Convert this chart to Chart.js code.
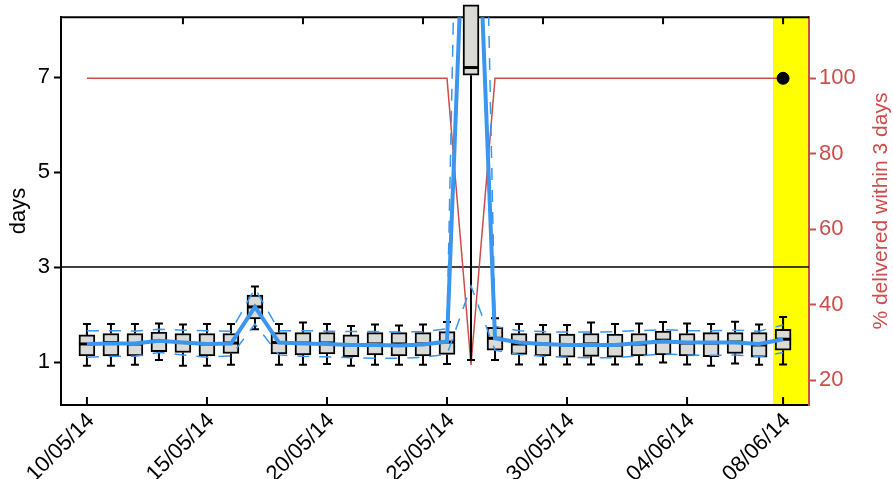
<!DOCTYPE html>
<html>
<head>
<meta charset="utf-8">
<script src="https://cdn.jsdelivr.net/npm/chart.js@4.4.0/dist/chart.umd.min.js"></script>
<style>
  html, body { margin: 0; padding: 0; background: #fff; }
</style>
</head>
<body>
<canvas id="myChart" width="893" height="479"></canvas>
<script>
const dates = [
  "10/05/14", "11/05/14", "12/05/14", "13/05/14", "14/05/14", "15/05/14",
  "16/05/14", "17/05/14", "18/05/14", "19/05/14", "20/05/14", "21/05/14",
  "22/05/14", "23/05/14", "24/05/14", "25/05/14", "26/05/14", "27/05/14",
  "28/05/14", "29/05/14", "30/05/14", "31/05/14", "01/06/14", "02/06/14",
  "03/06/14", "04/06/14", "05/06/14", "06/06/14", "07/06/14", "08/06/14"
];
const tickDays = [0, 5, 10, 15, 20, 25, 29];
const topTickDays = [4, 9, 14, 19, 24, 29];
const dayTicks = [1, 3, 5, 7];
const pctTicks = [20, 40, 60, 80, 100];

// box plot of delivery time (days)
const whiskerLow  = [0.92, 0.92, 0.94, 1.04, 0.92, 0.92, 0.94, 1.69, 0.94, 0.94, 0.96, 0.92, 0.94, 0.94, 0.94, 0.96, 1.04, 1.04, 0.95, 0.95, 0.95, 0.95, 0.95, 0.95, 0.99, 0.95, 0.92, 0.97, 0.94, 0.95];
const q1          = [1.13, 1.13, 1.13, 1.22, 1.20, 1.13, 1.18, 1.91, 1.17, 1.15, 1.17, 1.11, 1.15, 1.13, 1.13, 1.16, 7.04, 1.25, 1.16, 1.13, 1.10, 1.12, 1.10, 1.13, 1.15, 1.13, 1.11, 1.18, 1.10, 1.25];
const median      = [1.38, 1.41, 1.38, 1.44, 1.41, 1.38, 1.40, 2.16, 1.41, 1.40, 1.40, 1.36, 1.38, 1.38, 1.38, 1.42, 7.20, 1.50, 1.38, 1.38, 1.36, 1.38, 1.36, 1.38, 1.46, 1.40, 1.40, 1.42, 1.36, 1.48];
const q3          = [1.57, 1.60, 1.60, 1.63, 1.60, 1.60, 1.60, 2.41, 1.62, 1.62, 1.62, 1.57, 1.62, 1.62, 1.62, 1.64, 8.52, 1.73, 1.60, 1.60, 1.59, 1.60, 1.59, 1.60, 1.65, 1.60, 1.62, 1.62, 1.62, 1.69];
const whiskerHigh = [1.80, 1.80, 1.80, 1.81, 1.79, 1.80, 1.80, 2.59, 1.80, 1.83, 1.80, 1.76, 1.79, 1.77, 1.79, 1.84, 8.52, 1.92, 1.80, 1.78, 1.78, 1.83, 1.80, 1.81, 1.84, 1.81, 1.80, 1.85, 1.79, 1.95];

// mean and band (days)
const meanDays  = [1.38, 1.39, 1.39, 1.45, 1.41, 1.38, 1.39, 2.16, 1.41, 1.39, 1.38, 1.36, 1.36, 1.35, 1.37, 1.43, 14.5, 1.50, 1.41, 1.38, 1.36, 1.36, 1.36, 1.40, 1.43, 1.41, 1.41, 1.41, 1.38, 1.48];
const upperBand = [1.66, 1.66, 1.65, 1.69, 1.67, 1.66, 1.65, 2.55, 1.66, 1.66, 1.65, 1.64, 1.64, 1.63, 1.64, 1.70, 26.4, 1.75, 1.66, 1.64, 1.63, 1.63, 1.64, 1.66, 1.68, 1.66, 1.66, 1.67, 1.65, 1.78];
const lowerBand = [1.10, 1.12, 1.12, 1.20, 1.15, 1.10, 1.13, 1.80, 1.15, 1.12, 1.11, 1.09, 1.08, 1.08, 1.10, 1.16, 2.60, 1.25, 1.16, 1.12, 1.10, 1.09, 1.09, 1.13, 1.17, 1.15, 1.14, 1.15, 1.11, 1.20];

// % delivered within 3 days
const pctWithin3 = [100, 100, 100, 100, 100, 100, 100, 100, 100, 100, 100, 100, 100, 100, 100, 100, 24, 100, 100, 100, 100, 100, 100, 100, 100, 100, 100, 100, 100, 100];

const thresholdDays = 3;
const highlightDay = 29;

const FONT = "'Liberation Sans', Arial, Helvetica, sans-serif";
const RED = "#cd4c4c";
const BLUE = "#3a96ee";

const pts = (arr) => arr.map((v, i) => ({ x: i, y: v }));

const extras = {
  id: "extras",
  beforeDraw(chart) {
    const { ctx, chartArea: a, scales: { x } } = chart;
    const x0 = x.getPixelForValue(highlightDay - 0.42);
    ctx.save();
    ctx.fillStyle = "#ffff00";
    ctx.fillRect(x0, a.top, a.right - x0, a.bottom - a.top);
    ctx.restore();
  },
  beforeDatasetsDraw(chart) {
    const { ctx, chartArea: a, scales: { x, y } } = chart;
    ctx.save();
    ctx.strokeStyle = "#000";
    ctx.lineWidth = 1.5;
    const ty = y.getPixelForValue(thresholdDays);
    ctx.beginPath();
    ctx.moveTo(a.left, ty);
    ctx.lineTo(a.right, ty);
    ctx.stroke();
    // top frame
    ctx.lineWidth = 2;
    ctx.beginPath();
    ctx.moveTo(a.left - 1, a.top);
    ctx.lineTo(a.right, a.top);
    ctx.stroke();
    // inward ticks
    tickDays.forEach((d) => {
      const px = x.getPixelForValue(d);
      ctx.beginPath();
      ctx.moveTo(px, a.bottom);
      ctx.lineTo(px, a.bottom - 8);
      ctx.stroke();
    });
    topTickDays.forEach((d) => {
      const px = x.getPixelForValue(d);
      ctx.beginPath();
      ctx.moveTo(px, a.top);
      ctx.lineTo(px, a.top + 7);
      ctx.stroke();
    });
    ctx.restore();
  },
  afterDatasetDraw(chart, args) {
    if (args.index !== 1) return;
    const { ctx, scales: { y } } = chart;
    const bars = args.meta.data;
    ctx.save();
    ctx.strokeStyle = "#000";
    bars.forEach((bar, i) => {
      const half = bar.width / 2;
      const cap = bar.width * 0.25;
      const yq1 = y.getPixelForValue(q1[i]);
      const yq3 = y.getPixelForValue(q3[i]);
      const ylo = y.getPixelForValue(whiskerLow[i]);
      const yhi = y.getPixelForValue(whiskerHigh[i]);
      ctx.lineWidth = 2;
      ctx.beginPath();
      ctx.moveTo(bar.x, yq1); ctx.lineTo(bar.x, ylo);
      ctx.moveTo(bar.x - cap, ylo); ctx.lineTo(bar.x + cap, ylo);
      if (whiskerHigh[i] > q3[i]) {
        ctx.moveTo(bar.x, yq3); ctx.lineTo(bar.x, yhi);
        ctx.moveTo(bar.x - cap, yhi); ctx.lineTo(bar.x + cap, yhi);
      }
      ctx.stroke();
      ctx.lineWidth = 3;
      const ym = y.getPixelForValue(median[i]);
      ctx.beginPath();
      ctx.moveTo(bar.x - half, ym); ctx.lineTo(bar.x + half, ym);
      ctx.stroke();
    });
    ctx.restore();
  },
  afterDraw(chart) {
    const { ctx, chartArea: a } = chart;
    ctx.save();
    ctx.translate(881, (a.top + a.bottom) / 2);
    ctx.rotate(-Math.PI / 2);
    ctx.fillStyle = RED;
    ctx.font = "21px " + FONT;
    ctx.textAlign = "center";
    ctx.textBaseline = "middle";
    ctx.fillText("% delivered within 3 days", 0, 0);
    ctx.restore();
  }
};

const data = {
  datasets: [
    {
      type: "line",
      label: "% within 3 days",
      data: pts(pctWithin3),
      yAxisID: "y2",
      borderColor: RED,
      borderWidth: 1.5,
      pointRadius: 0,
      order: 4
    },
    {
      type: "bar",
      label: "days",
      data: q1.map((v, i) => ({ x: i, y: [v, q3[i]] })),
      yAxisID: "y",
      backgroundColor: "#dadad6",
      borderColor: "#000",
      borderWidth: 2,
      borderSkipped: false,
      barThickness: 16,
      clip: false,
      order: 3
    },
    {
      type: "line",
      label: "upper",
      data: pts(upperBand),
      yAxisID: "y",
      borderColor: BLUE,
      borderWidth: 1.5,
      borderDash: [12, 10],
      pointRadius: 0,
      order: 2
    },
    {
      type: "line",
      label: "lower",
      data: pts(lowerBand),
      yAxisID: "y",
      borderColor: BLUE,
      borderWidth: 1.5,
      borderDash: [12, 10],
      pointRadius: 0,
      order: 2
    },
    {
      type: "line",
      label: "mean",
      data: pts(meanDays),
      yAxisID: "y",
      borderColor: BLUE,
      borderWidth: 4,
      pointRadius: 0,
      order: 1
    },
    {
      type: "line",
      label: "today",
      data: [{ x: highlightDay, y: pctWithin3[highlightDay] }],
      yAxisID: "y2",
      showLine: false,
      pointRadius: 6,
      pointBackgroundColor: "#000",
      pointBorderColor: "#000",
      order: 0
    }
  ]
};

const config = {
  type: "bar",
  data: data,
  plugins: [extras],
  options: {
    responsive: false,
    animation: false,
    layout: { padding: { top: 17, left: 0, right: 0, bottom: 0 } },
    plugins: { legend: { display: false }, tooltip: { enabled: false } },
    scales: {
      x: {
        type: "linear",
        offset: false,
        bounds: "ticks",
        min: -1.08,
        max: 30.08,
        afterBuildTicks: (s) => { s.ticks = tickDays.map((v) => ({ value: v })); },
        afterFit: (s) => { s.height = 74; },
        ticks: {
          callback: (v) => dates[v],
          color: "#000",
          font: { family: FONT, size: 22 },
          minRotation: 45,
          maxRotation: 45,
          labelOffset: 4,
          padding: -5
        },
        grid: { display: false },
        border: { display: true, color: "#000", width: 2 }
      },
      y: {
        type: "linear",
        position: "left",
        min: 0.095,
        max: 8.26,
        afterBuildTicks: (s) => { s.ticks = dayTicks.map((v) => ({ value: v })); },
        afterFit: (s) => { s.width = 61; },
        ticks: { color: "#000", font: { family: FONT, size: 22 }, padding: 4 },
        grid: { display: true, drawOnChartArea: false, drawTicks: true, tickLength: 7, tickWidth: 2, color: "#000" },
        border: { display: true, color: "#000", width: 2 },
        title: { display: true, text: "days", color: "#000", font: { family: FONT, size: 22 }, padding: { top: 6, bottom: 4 } }
      },
      y2: {
        type: "linear",
        position: "right",
        min: 13.4,
        max: 116.2,
        afterBuildTicks: (s) => { s.ticks = pctTicks.map((v) => ({ value: v })); },
        afterFit: (s) => { s.width = 84; },
        ticks: { color: RED, font: { family: FONT, size: 22 }, padding: 3 },
        grid: { display: true, drawOnChartArea: false, drawTicks: true, tickLength: 7, tickWidth: 2, color: RED },
        border: { display: true, color: RED, width: 2 }
      }
    }
  }
};

const ctx = document.getElementById("myChart");
const myChart = new Chart(ctx, config);
</script>
</body>
</html>
